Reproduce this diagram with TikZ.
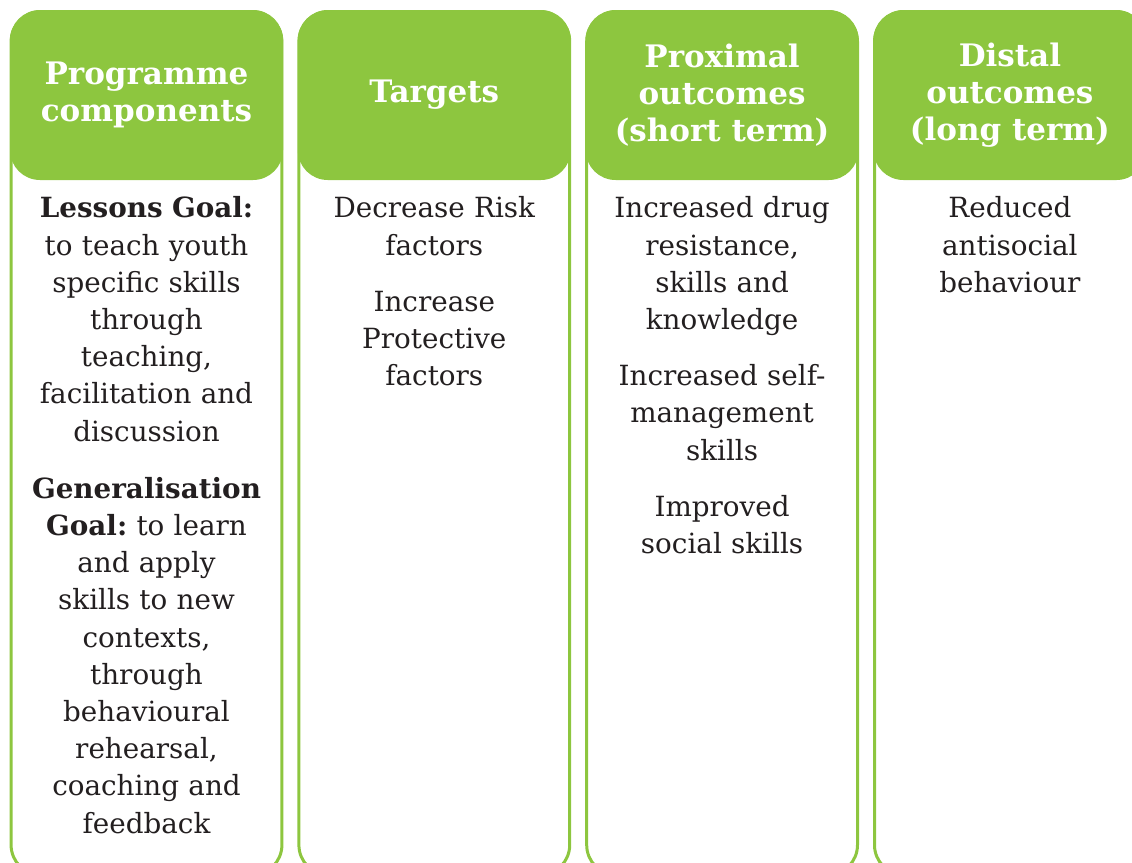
\documentclass[tikz,border=0pt]{standalone}
\usepackage{fontspec}
\setmainfont{DejaVu Serif}
\usetikzlibrary{positioning, backgrounds}
\definecolor{leafgreen}{HTML}{8DC63F}
\definecolor{inkgrey}{HTML}{231F20}

\tikzset{
  colhead/.style={fill=leafgreen, rounded corners=15pt, minimum width=136.5pt,
    minimum height=85pt, text=white, align=center, inner sep=0pt,
    font=\bfseries\fontsize{15.5}{18.6}\selectfont},
  colbody/.style={text=inkgrey, align=center, text width=134pt, inner sep=0pt,
    font=\frenchspacing\fontsize{13.9}{18.6}\selectfont},
  colframe/.style={draw=leafgreen, line width=1.5pt, rounded corners=15pt}
}

\begin{document}
\begin{tikzpicture}[x=0.5pt, y=-0.5pt, node distance=7pt]
\useasboundingbox (0,0) rectangle (1132,863);

% header row
\node [colhead] (hdComp) at (146.5,95) {Programme\\components};
\node [colhead, right=of hdComp] (hdTarg) {Targets};
\node [colhead, right=of hdTarg] (hdProx) {Proximal\\outcomes\\(short term)};
\node [colhead, right=of hdProx] (hdDist) {Distal\\outcomes\\(long term)};

% column texts
\node [colbody, below=8pt of hdComp] (bdComp) {\textbf{Lessons Goal:}\\to teach youth\\specific skills\\through\\teaching,\\facilitation and\\discussion\\[10pt]
  \textbf{Generalisation}\\\textbf{Goal:} to learn\\and apply\\skills to new\\contexts,\\through\\behavioural\\rehearsal,\\coaching and\\feedback};
\node [colbody, below=8pt of hdTarg] (bdTarg) {Decrease Risk\\factors\\[9.5pt]Increase\\Protective\\factors};
\node [colbody, below=8pt of hdProx] (bdProx) {Increased drug\\resistance,\\skills and\\knowledge\\[9.5pt]
  Increased self-\\management\\skills\\[9.5pt]Improved\\social skills};
\node [colbody, below=8pt of hdDist] (bdDist) {Reduced\\antisocial\\behaviour};

% column frames
\begin{scope}[on background layer]
\foreach \c in {Comp,Targ,Prox,Dist} {
  \coordinate (bot\c) at (hd\c.east |- 0,875);
  \draw [colframe] ([xshift=0.75pt,yshift=-1pt]hd\c.north west) rectangle ([xshift=-0.75pt]bot\c);
}
\end{scope}
\end{tikzpicture}
\end{document}
